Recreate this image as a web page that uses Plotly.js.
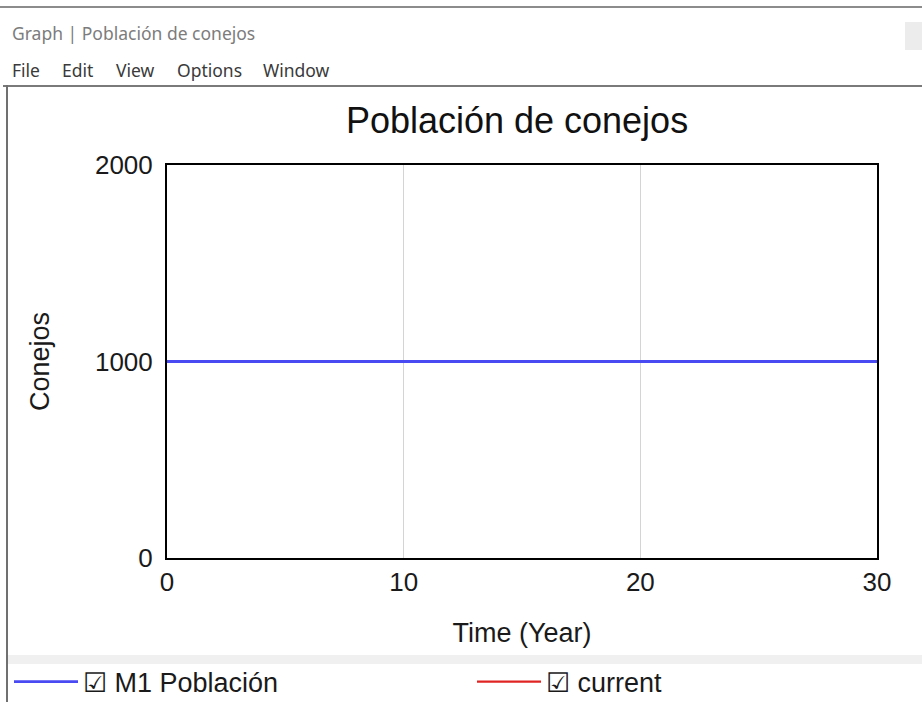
<!DOCTYPE html>
<html>
<head>
<meta charset="utf-8">
<script src="https://cdn.plot.ly/plotly-3.0.1.min.js"></script>
<style>
  html, body { margin:0; padding:0; background:#fff; }
  #wrap { position:relative; width:922px; height:702px; overflow:hidden; }
  #chart { position:absolute; left:0; top:0; width:922px; height:702px; }
  .ov { position:absolute; pointer-events:none; }
  .menu { position:absolute; top:58px; font-family:"Noto Sans","Open Sans",sans-serif; font-size:17.5px; color:#3a3a3a; }
</style>
</head>
<body>
<div id="wrap">
  <div id="chart"></div>
  <div class="ov" style="left:0;top:6px;width:922px;height:2px;background:#8c8c8c;"></div>
  <div class="ov" style="left:12px;top:21px;font-family:'Noto Sans','Open Sans',sans-serif;font-size:17.5px;color:#7c7c7c;">Graph | Población de conejos</div>
  <div class="ov" style="left:905px;top:22px;width:17px;height:28px;background:#ececec;"></div>
  <div class="ov menu" style="left:12px;">File</div>
  <div class="ov menu" style="left:62px;">Edit</div>
  <div class="ov menu" style="left:116px;">View</div>
  <div class="ov menu" style="left:177px;">Options</div>
  <div class="ov menu" style="left:263px;">Window</div>
  <div class="ov" style="left:3px;top:85px;width:919px;height:2px;background:#7a7a7a;"></div>
  <div class="ov" style="left:6px;top:85px;width:2px;height:617px;background:#707070;"></div>
  <div class="ov" style="left:8px;top:655px;width:914px;height:9px;background:#f0f0f0;"></div>
</div>
<script>
// Data
var time = [0, 5, 10, 15, 20, 25, 30];
var poblacion = [1000, 1000, 1000, 1000, 1000, 1000, 1000];
var current = [1000, 1000, 1000, 1000, 1000, 1000, 1000];
var seriesNames = ["\u2611 M1 Población", "\u2611 current"];
var xTicks = [0, 10, 20, 30];
var yTicks = [0, 1000, 2000];

var FONT = '"Liberation Sans", Arial, sans-serif';

var traces = [
  { x: time, y: current, name: seriesNames[1], mode: 'lines',
    line: { color: '#e02424', width: 2.2 }, legend: 'legend2' },
  { x: time, y: poblacion, name: seriesNames[0], mode: 'lines',
    line: { color: '#4a4af2', width: 2.8 }, legend: 'legend' }
];

var legendBase = {
  orientation: 'h', xanchor: 'left', yanchor: 'middle',
  y: (558 - 682) / 393,
  itemwidth: 64,
  font: { family: FONT, size: 27, color: '#1a1a1a' },
  bgcolor: 'rgba(0,0,0,0)', borderwidth: 0
};

var layout = {
  width: 922, height: 702,
  margin: { l: 167, r: 45, t: 165, b: 144, autoexpand: false },
  paper_bgcolor: '#ffffff', plot_bgcolor: '#ffffff',
  font: { family: FONT, color: '#1a1a1a' },
  title: { text: 'Población de conejos', font: { family: FONT, size: 36, color: '#111' },
           xref: 'paper', x: 0.493, xanchor: 'center', yref: 'container', y: 1 - 120/702, yanchor: 'middle' },
  xaxis: {
    range: [0, 30], tickvals: xTicks, ticktext: xTicks.map(String),
    showgrid: true, gridcolor: '#d4d4d4', gridwidth: 1, zeroline: false,
    showline: true, mirror: true, linecolor: '#000', linewidth: 2,
    ticks: '',
    tickfont: { family: FONT, size: 26, color: '#1a1a1a' },
    title: { text: 'Time (Year)', font: { family: FONT, size: 27, color: '#1a1a1a' }, standoff: 27 }
  },
  yaxis: {
    range: [0, 2000], tickvals: yTicks, ticktext: yTicks.map(String),
    showgrid: true, gridcolor: '#d4d4d4', gridwidth: 1, zeroline: false,
    showline: true, mirror: true, linecolor: '#000', linewidth: 2,
    ticks: 'outside', ticklen: 7, tickcolor: 'rgba(0,0,0,0)',
    tickfont: { family: FONT, size: 26, color: '#1a1a1a' },
    title: { text: 'Conejos', font: { family: FONT, size: 27, color: '#1a1a1a' }, standoff: 38 }
  },
  showlegend: true,
  legend: Object.assign({}, legendBase, { x: (9 - 167) / 710 }),
  legend2: Object.assign({}, legendBase, { x: (472 - 167) / 710 })
};

Plotly.newPlot('chart', traces, layout, { displayModeBar: false, staticPlot: true });
</script>
</body>
</html>
